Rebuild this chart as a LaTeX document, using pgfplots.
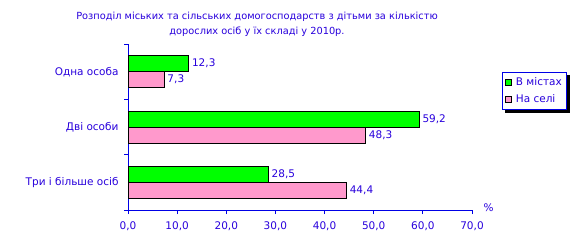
\documentclass[border=0pt]{standalone}
\usepackage{fontspec}
\setmainfont{DejaVu Sans}
\usepackage{pgfplots}
\pgfplotsset{compat=1.18}
\usetikzlibrary{backgrounds}
\definecolor{txt}{RGB}{40,0,220}
\definecolor{axc}{RGB}{0,0,230}
\definecolor{grn}{RGB}{0,255,0}
\definecolor{pnk}{RGB}{255,153,204}
\begin{document}
\begin{tikzpicture}
\useasboundingbox (0,0) rectangle (587bp,240bp);
\node[font=\fontsize{9.8bp}{15bp}\selectfont, text=txt, align=center] at (257bp,215.5bp) {Розподіл міських та сільських домогосподарств з дітьми за кількістю\\дорослих осіб у їх складі у 2010р.};
\begin{axis}[
  at={(128bp,30bp)}, anchor=south west,
  scale only axis, width=344bp, height=166bp,
  xbar, y dir=reverse,
  xmin=0, xmax=70, xtick={0,10,...,70},
  ymin=-0.5, ymax=2.5,
  ytick={0,1,2},
  yticklabels={Одна особа, Дві особи, Три і більше осіб},
  minor ytick={-0.5,0.5,1.5,2.5},
  major y tick style={draw=none},
  minor tick length=4bp, major tick length=4bp,
  tick align=outside,
  axis x line*=bottom, axis y line*=left,
  axis line style={-, axc, line width=0.8pt},
  tick style={axc, line width=0.8pt},
  xtick pos=bottom, ytick pos=left,
  ticklabel style={font=\fontsize{10.5bp}{12bp}\selectfont, text=txt},
  yticklabel style={xshift=-2bp},
  xticklabel style={yshift=-4bp},
  /pgf/number format/assume math mode=true,
  xticklabel={\pgfmathprintnumber[fixed, fixed zerofill, precision=1, use comma]{\tick}},
  bar width=16bp,
  nodes near coords={\pgfmathprintnumber[fixed, fixed zerofill, precision=1, use comma]{\pgfplotspointmeta}},
  nodes near coords style={font=\fontsize{10.5bp}{12bp}\selectfont, text=txt, anchor=west, xshift=0bp},
  point meta=x,
  legend style={at={(1,1)}, anchor=north west, xshift=30bp, yshift=-28bp,
    draw=axc, line width=0.8pt, fill=white, name=leg,
    font=\fontsize{10.5bp}{12bp}\selectfont, text=txt,
    row sep=4bp, inner sep=3bp,
    /tikz/every odd column/.append style={column sep=2bp}},
  legend cell align=left,
  legend image code/.code={\draw[#1, draw=black, line width=0.5pt] (0bp,-3bp) rectangle (6bp,3bp);},
  clip=false,
]
\addplot[fill=grn, draw=black, line width=0.6pt, bar shift=8bp] coordinates {(12.3,0) (59.2,1) (28.5,2)};
\addplot[fill=pnk, draw=black, line width=0.6pt, bar shift=-8bp] coordinates {(7.3,0) (48.3,1) (44.4,2)};
\legend{В містах, На селі}
\node[font=\fontsize{10.5bp}{12bp}\selectfont, text=txt, anchor=west] at (rel axis cs:1,0) [xshift=8bp, yshift=2bp] {\%};
\end{axis}
\begin{scope}[on background layer]
\fill[black] ([xshift=3bp,yshift=-3bp]leg.south west) rectangle ([xshift=3bp,yshift=-3bp]leg.north east);
\end{scope}
\end{tikzpicture}
\end{document}
